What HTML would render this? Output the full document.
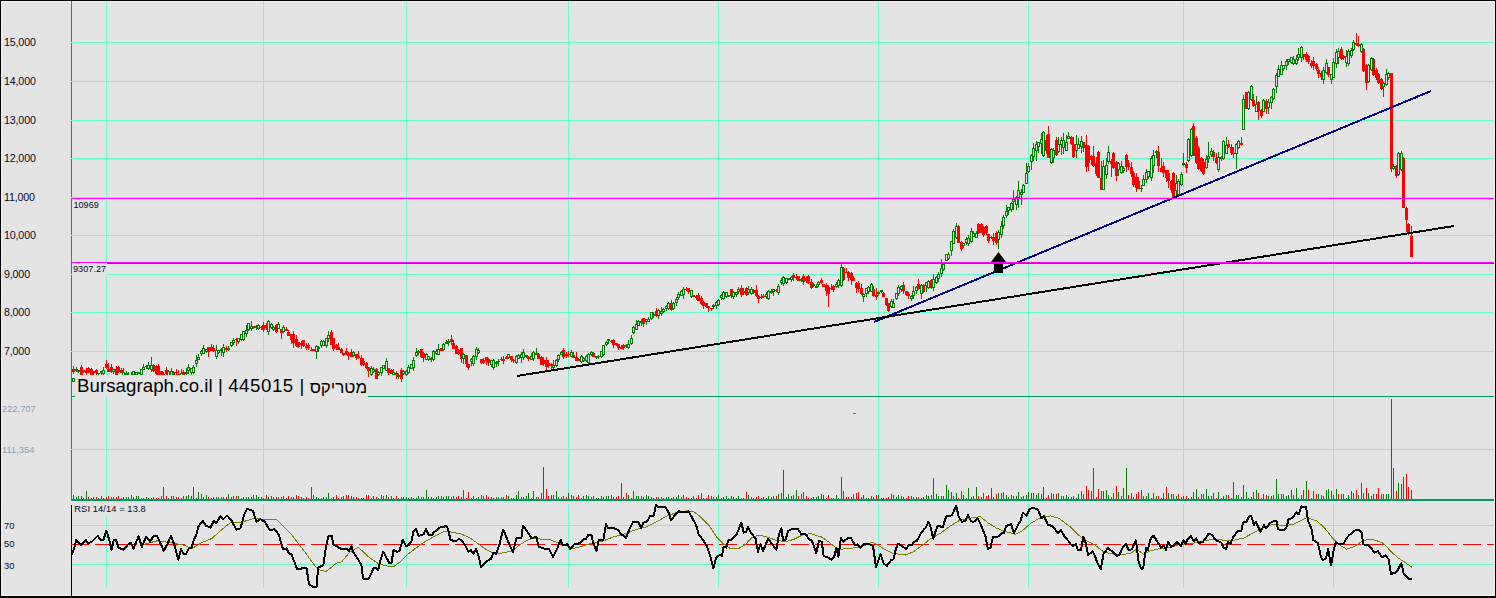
<!DOCTYPE html><html><head><meta charset="utf-8"><title>Bursagraph</title><style>
html,body{margin:0;padding:0;background:#e4e4e4}
body{width:1496px;height:598px;overflow:hidden;position:relative;font-family:"Liberation Sans",sans-serif;color:#000}
svg{position:absolute;left:0;top:0;display:block}
.t{position:absolute;white-space:nowrap;line-height:1}
.ax{font-size:10.67px;left:4px;color:#0a0a1e;letter-spacing:-0.15px}
.sm{font-size:9.33px;color:#0a0a1e}
.sm span,.vl span{display:inline-block;transform:scaleY(1.05);transform-origin:0 0}
.vl{font-size:9.33px;left:2px;color:#8f9bb5}
.box{background:#e4e4e4}
.ti{position:absolute;top:2px;white-space:nowrap;line-height:1}
</style></head><body>
<svg width="1496" height="598" viewBox="0 0 1496 598" shape-rendering="crispEdges">
<rect x="0" y="0" width="1496" height="598" fill="#e4e4e4"/>
<rect x="1" y="1" width="1494" height="1" fill="#f0f0f0"/><rect x="1" y="1" width="1" height="595" fill="#f0f0f0"/>
<rect x="1494" y="1" width="1" height="595" fill="#f0f0f0"/><rect x="1" y="595" width="1494" height="1" fill="#ececec"/>
<rect x="71" y="1" width="1" height="500" fill="#009966"/>
<path d="M106 1h1v499h-1zM106 504h1v84h-1zM263 1h1v499h-1zM263 504h1v84h-1zM406 1h1v499h-1zM406 504h1v84h-1zM568 1h1v499h-1zM568 504h1v84h-1zM718 1h1v499h-1zM718 504h1v84h-1zM878 1h1v499h-1zM878 504h1v84h-1zM1028 1h1v499h-1zM1028 504h1v84h-1zM1183 1h1v499h-1zM1183 504h1v84h-1zM1333 1h1v499h-1zM1333 504h1v84h-1zM71 42h1423v1h-1423zM71 81h1423v1h-1423zM71 120h1423v1h-1423zM71 158h1423v1h-1423zM71 197h1423v1h-1423zM71 235h1423v1h-1423zM71 274h1423v1h-1423zM71 312h1423v1h-1423zM71 351h1423v1h-1423zM71 449h1423v1h-1423zM71 525h1423v1h-1423zM71 564h1423v1h-1423z" fill="#66ffcc"/>
<rect x="72" y="396" width="1422" height="1" fill="#009966"/>
<rect x="71" y="505" width="1" height="91" fill="#000"/>
<path d="M76 497h1v2h-1zM78 496h1v3h-1zM86 491h1v8h-1zM98 498h1v1h-1zM101 496h1v3h-1zM103 498h1v1h-1zM113 497h1v2h-1zM123 497h1v2h-1zM126 497h1v2h-1zM128 497h1v2h-1zM133 497h1v2h-1zM136 496h1v3h-1zM138 496h1v3h-1zM141 498h1v1h-1zM143 498h1v1h-1zM146 497h1v2h-1zM148 498h1v1h-1zM151 498h1v1h-1zM168 498h1v1h-1zM171 496h1v3h-1zM181 498h1v1h-1zM186 496h1v3h-1zM188 495h1v4h-1zM191 496h1v3h-1zM193 487h1v12h-1zM196 498h1v1h-1zM198 492h1v7h-1zM201 494h1v5h-1zM203 497h1v2h-1zM206 495h1v4h-1zM216 497h1v2h-1zM218 497h1v2h-1zM221 497h1v2h-1zM223 497h1v2h-1zM228 494h1v5h-1zM231 497h1v2h-1zM233 496h1v3h-1zM238 496h1v3h-1zM241 498h1v1h-1zM243 497h1v2h-1zM246 497h1v2h-1zM248 497h1v2h-1zM251 497h1v2h-1zM256 495h1v4h-1zM258 497h1v2h-1zM261 497h1v2h-1zM268 497h1v2h-1zM271 496h1v3h-1zM273 497h1v2h-1zM278 497h1v2h-1zM283 496h1v3h-1zM316 497h1v2h-1zM318 498h1v1h-1zM321 498h1v1h-1zM323 497h1v2h-1zM326 497h1v2h-1zM328 493h1v6h-1zM353 497h1v2h-1zM371 498h1v1h-1zM373 496h1v3h-1zM378 498h1v1h-1zM381 495h1v4h-1zM383 496h1v3h-1zM386 495h1v4h-1zM393 498h1v1h-1zM398 498h1v1h-1zM403 497h1v2h-1zM406 497h1v2h-1zM408 498h1v1h-1zM411 497h1v2h-1zM413 498h1v1h-1zM416 498h1v1h-1zM418 496h1v3h-1zM426 490h1v9h-1zM428 497h1v2h-1zM431 497h1v2h-1zM433 498h1v1h-1zM436 497h1v2h-1zM438 496h1v3h-1zM443 497h1v2h-1zM446 496h1v3h-1zM448 496h1v3h-1zM471 498h1v1h-1zM473 496h1v3h-1zM476 498h1v1h-1zM478 497h1v2h-1zM491 497h1v2h-1zM493 498h1v1h-1zM496 497h1v2h-1zM498 497h1v2h-1zM501 497h1v2h-1zM508 496h1v3h-1zM516 495h1v4h-1zM518 491h1v8h-1zM521 497h1v2h-1zM523 497h1v2h-1zM526 496h1v3h-1zM528 493h1v6h-1zM531 498h1v1h-1zM533 491h1v8h-1zM536 497h1v2h-1zM543 467h1v32h-1zM553 495h1v4h-1zM556 491h1v8h-1zM558 497h1v2h-1zM561 497h1v2h-1zM568 493h1v6h-1zM571 495h1v4h-1zM581 498h1v1h-1zM583 496h1v3h-1zM586 495h1v4h-1zM588 496h1v3h-1zM591 497h1v2h-1zM596 498h1v1h-1zM598 498h1v1h-1zM601 496h1v3h-1zM603 497h1v2h-1zM606 496h1v3h-1zM608 496h1v3h-1zM628 495h1v4h-1zM631 498h1v1h-1zM633 491h1v8h-1zM636 496h1v3h-1zM638 496h1v3h-1zM641 496h1v3h-1zM646 495h1v4h-1zM648 496h1v3h-1zM651 497h1v2h-1zM653 498h1v1h-1zM658 497h1v2h-1zM661 497h1v2h-1zM663 498h1v1h-1zM666 497h1v2h-1zM668 497h1v2h-1zM673 497h1v2h-1zM676 497h1v2h-1zM678 495h1v4h-1zM681 497h1v2h-1zM683 495h1v4h-1zM691 498h1v1h-1zM701 493h1v6h-1zM713 497h1v2h-1zM716 497h1v2h-1zM718 495h1v4h-1zM721 498h1v1h-1zM723 497h1v2h-1zM726 496h1v3h-1zM728 498h1v1h-1zM733 497h1v2h-1zM736 498h1v1h-1zM738 496h1v3h-1zM748 495h1v4h-1zM751 497h1v2h-1zM766 498h1v1h-1zM768 496h1v3h-1zM771 497h1v2h-1zM773 496h1v3h-1zM778 494h1v5h-1zM781 493h1v6h-1zM786 497h1v2h-1zM788 494h1v5h-1zM791 496h1v3h-1zM796 490h1v9h-1zM803 492h1v7h-1zM813 497h1v2h-1zM816 497h1v2h-1zM818 496h1v3h-1zM821 494h1v5h-1zM836 495h1v4h-1zM838 498h1v1h-1zM841 477h1v22h-1zM863 495h1v4h-1zM866 498h1v1h-1zM868 498h1v1h-1zM871 496h1v3h-1zM878 495h1v4h-1zM881 498h1v1h-1zM891 494h1v5h-1zM893 495h1v4h-1zM896 497h1v2h-1zM898 495h1v4h-1zM901 496h1v3h-1zM911 496h1v3h-1zM913 497h1v2h-1zM916 497h1v2h-1zM921 498h1v1h-1zM926 495h1v4h-1zM928 496h1v3h-1zM936 494h1v5h-1zM938 496h1v3h-1zM941 496h1v3h-1zM943 496h1v3h-1zM946 485h1v14h-1zM948 490h1v9h-1zM951 492h1v7h-1zM953 496h1v3h-1zM956 493h1v6h-1zM963 495h1v4h-1zM966 498h1v1h-1zM968 488h1v11h-1zM971 497h1v2h-1zM973 496h1v3h-1zM976 487h1v12h-1zM991 488h1v11h-1zM998 493h1v6h-1zM1001 493h1v6h-1zM1003 492h1v7h-1zM1006 495h1v4h-1zM1008 497h1v2h-1zM1011 495h1v4h-1zM1013 496h1v3h-1zM1016 496h1v3h-1zM1018 492h1v7h-1zM1021 497h1v2h-1zM1023 496h1v3h-1zM1026 495h1v4h-1zM1028 492h1v7h-1zM1031 493h1v6h-1zM1033 493h1v6h-1zM1036 495h1v4h-1zM1038 493h1v6h-1zM1043 487h1v12h-1zM1051 493h1v6h-1zM1053 494h1v5h-1zM1058 493h1v6h-1zM1061 496h1v3h-1zM1063 496h1v3h-1zM1066 495h1v4h-1zM1068 497h1v2h-1zM1076 498h1v1h-1zM1078 494h1v5h-1zM1093 468h1v31h-1zM1103 491h1v8h-1zM1106 490h1v9h-1zM1108 495h1v4h-1zM1113 493h1v6h-1zM1118 492h1v7h-1zM1121 496h1v3h-1zM1126 468h1v31h-1zM1131 493h1v6h-1zM1143 496h1v3h-1zM1146 496h1v3h-1zM1148 493h1v6h-1zM1151 498h1v1h-1zM1153 493h1v6h-1zM1156 496h1v3h-1zM1168 493h1v6h-1zM1176 496h1v3h-1zM1181 497h1v2h-1zM1183 496h1v3h-1zM1188 498h1v1h-1zM1191 497h1v2h-1zM1196 489h1v10h-1zM1203 494h1v5h-1zM1206 489h1v10h-1zM1208 496h1v3h-1zM1211 496h1v3h-1zM1218 492h1v7h-1zM1221 498h1v1h-1zM1223 496h1v3h-1zM1226 495h1v4h-1zM1236 495h1v4h-1zM1238 495h1v4h-1zM1243 485h1v14h-1zM1246 492h1v7h-1zM1248 498h1v1h-1zM1251 497h1v2h-1zM1256 490h1v9h-1zM1263 494h1v5h-1zM1268 496h1v3h-1zM1271 496h1v3h-1zM1273 495h1v4h-1zM1276 479h1v20h-1zM1278 494h1v5h-1zM1283 494h1v5h-1zM1286 496h1v3h-1zM1288 495h1v4h-1zM1296 488h1v11h-1zM1298 498h1v1h-1zM1303 490h1v9h-1zM1306 481h1v18h-1zM1318 494h1v5h-1zM1323 496h1v3h-1zM1326 490h1v9h-1zM1328 489h1v10h-1zM1333 495h1v4h-1zM1336 489h1v10h-1zM1346 498h1v1h-1zM1348 495h1v4h-1zM1351 491h1v8h-1zM1353 493h1v6h-1zM1358 495h1v4h-1zM1368 493h1v6h-1zM1371 496h1v3h-1zM1383 494h1v5h-1zM1386 494h1v5h-1zM1388 494h1v5h-1zM1393 468h1v31h-1zM1398 483h1v16h-1zM1401 484h1v15h-1z" fill="#008000"/>
<path d="M73 495h1v4h-1zM81 496h1v3h-1zM83 498h1v1h-1zM88 497h1v2h-1zM91 498h1v1h-1zM93 497h1v2h-1zM96 497h1v2h-1zM106 497h1v2h-1zM108 496h1v3h-1zM111 497h1v2h-1zM116 497h1v2h-1zM118 496h1v3h-1zM121 498h1v1h-1zM131 495h1v4h-1zM153 497h1v2h-1zM156 498h1v1h-1zM158 498h1v1h-1zM161 496h1v3h-1zM163 487h1v12h-1zM166 496h1v3h-1zM173 496h1v3h-1zM176 497h1v2h-1zM178 497h1v2h-1zM183 496h1v3h-1zM208 497h1v2h-1zM211 498h1v1h-1zM213 497h1v2h-1zM226 497h1v2h-1zM236 496h1v3h-1zM253 495h1v4h-1zM263 498h1v1h-1zM266 495h1v4h-1zM276 497h1v2h-1zM281 497h1v2h-1zM286 498h1v1h-1zM288 496h1v3h-1zM291 497h1v2h-1zM293 497h1v2h-1zM296 495h1v4h-1zM298 496h1v3h-1zM301 497h1v2h-1zM303 498h1v1h-1zM306 497h1v2h-1zM308 498h1v1h-1zM311 487h1v12h-1zM313 495h1v4h-1zM331 498h1v1h-1zM333 497h1v2h-1zM336 495h1v4h-1zM338 498h1v1h-1zM341 497h1v2h-1zM343 496h1v3h-1zM346 495h1v4h-1zM348 495h1v4h-1zM351 496h1v3h-1zM356 497h1v2h-1zM358 498h1v1h-1zM361 498h1v1h-1zM363 498h1v1h-1zM366 495h1v4h-1zM368 495h1v4h-1zM376 497h1v2h-1zM388 497h1v2h-1zM391 496h1v3h-1zM396 496h1v3h-1zM401 497h1v2h-1zM421 497h1v2h-1zM423 497h1v2h-1zM441 496h1v3h-1zM451 497h1v2h-1zM453 496h1v3h-1zM456 497h1v2h-1zM458 496h1v3h-1zM461 497h1v2h-1zM463 490h1v9h-1zM466 498h1v1h-1zM468 492h1v7h-1zM481 495h1v4h-1zM483 496h1v3h-1zM486 495h1v4h-1zM488 497h1v2h-1zM503 497h1v2h-1zM506 495h1v4h-1zM511 498h1v1h-1zM513 498h1v1h-1zM538 497h1v2h-1zM541 493h1v6h-1zM546 489h1v10h-1zM548 496h1v3h-1zM551 495h1v4h-1zM563 496h1v3h-1zM566 497h1v2h-1zM573 496h1v3h-1zM576 497h1v2h-1zM578 495h1v4h-1zM593 496h1v3h-1zM611 495h1v4h-1zM613 497h1v2h-1zM616 497h1v2h-1zM618 496h1v3h-1zM621 483h1v16h-1zM623 497h1v2h-1zM626 493h1v6h-1zM643 497h1v2h-1zM656 497h1v2h-1zM671 498h1v1h-1zM686 497h1v2h-1zM688 498h1v1h-1zM693 496h1v3h-1zM696 498h1v1h-1zM698 495h1v4h-1zM703 498h1v1h-1zM706 498h1v1h-1zM708 495h1v4h-1zM711 496h1v3h-1zM731 496h1v3h-1zM741 498h1v1h-1zM743 498h1v1h-1zM746 492h1v7h-1zM753 498h1v1h-1zM756 497h1v2h-1zM758 496h1v3h-1zM761 498h1v1h-1zM763 497h1v2h-1zM776 496h1v3h-1zM783 470h1v29h-1zM793 495h1v4h-1zM798 496h1v3h-1zM801 494h1v5h-1zM806 496h1v3h-1zM808 498h1v1h-1zM811 498h1v1h-1zM823 495h1v4h-1zM826 498h1v1h-1zM828 495h1v4h-1zM831 498h1v1h-1zM833 498h1v1h-1zM843 491h1v8h-1zM846 497h1v2h-1zM848 497h1v2h-1zM851 497h1v2h-1zM853 494h1v5h-1zM856 493h1v6h-1zM858 492h1v7h-1zM861 497h1v2h-1zM873 497h1v2h-1zM876 495h1v4h-1zM883 498h1v1h-1zM886 498h1v1h-1zM888 497h1v2h-1zM903 497h1v2h-1zM906 498h1v1h-1zM908 496h1v3h-1zM918 497h1v2h-1zM923 497h1v2h-1zM931 495h1v4h-1zM933 478h1v21h-1zM958 498h1v1h-1zM961 491h1v8h-1zM978 496h1v3h-1zM981 497h1v2h-1zM983 493h1v6h-1zM986 496h1v3h-1zM988 495h1v4h-1zM993 497h1v2h-1zM996 494h1v5h-1zM1041 494h1v5h-1zM1046 498h1v1h-1zM1048 495h1v4h-1zM1056 494h1v5h-1zM1071 497h1v2h-1zM1073 496h1v3h-1zM1081 491h1v8h-1zM1083 494h1v5h-1zM1086 486h1v13h-1zM1088 490h1v9h-1zM1091 491h1v8h-1zM1096 497h1v2h-1zM1098 489h1v10h-1zM1101 491h1v8h-1zM1111 497h1v2h-1zM1116 486h1v13h-1zM1123 488h1v11h-1zM1128 495h1v4h-1zM1133 497h1v2h-1zM1136 494h1v5h-1zM1138 492h1v7h-1zM1141 490h1v9h-1zM1158 496h1v3h-1zM1161 498h1v1h-1zM1163 493h1v6h-1zM1166 487h1v12h-1zM1171 494h1v5h-1zM1173 494h1v5h-1zM1178 494h1v5h-1zM1186 496h1v3h-1zM1193 492h1v7h-1zM1198 497h1v2h-1zM1201 494h1v5h-1zM1213 493h1v6h-1zM1216 498h1v1h-1zM1228 495h1v4h-1zM1231 498h1v1h-1zM1233 482h1v17h-1zM1241 497h1v2h-1zM1253 492h1v7h-1zM1258 493h1v6h-1zM1261 498h1v1h-1zM1266 495h1v4h-1zM1281 494h1v5h-1zM1291 490h1v9h-1zM1293 495h1v4h-1zM1301 495h1v4h-1zM1308 490h1v9h-1zM1311 498h1v1h-1zM1313 491h1v8h-1zM1316 494h1v5h-1zM1321 495h1v4h-1zM1331 491h1v8h-1zM1338 494h1v5h-1zM1341 494h1v5h-1zM1343 494h1v5h-1zM1356 490h1v9h-1zM1361 483h1v16h-1zM1363 493h1v6h-1zM1366 488h1v11h-1zM1373 494h1v5h-1zM1376 494h1v5h-1zM1378 488h1v11h-1zM1381 494h1v5h-1zM1391 399h1v100h-1zM1396 491h1v8h-1zM1403 477h1v22h-1zM1406 474h1v25h-1zM1408 487h1v12h-1zM1411 490h1v9h-1z" fill="#ff0000"/>
<rect x="71" y="499" width="1423" height="2" fill="#009966"/>
<path d="M76 367h1v2h-1zM76 371h1v1h-1zM78 372h1v1h-1zM98 374h1v2h-1zM101 373h1v4h-1zM103 367h1v3h-1zM103 374h1v2h-1zM113 372h1v2h-1zM123 368h1v4h-1zM126 371h1v2h-1zM126 375h1v2h-1zM128 372h1v3h-1zM128 378h1v3h-1zM133 375h1v1h-1zM136 375h1v1h-1zM141 375h1v2h-1zM143 364h1v3h-1zM146 365h1v1h-1zM146 367h1v2h-1zM148 362h1v3h-1zM148 369h1v1h-1zM151 357h1v8h-1zM151 370h1v2h-1zM168 370h1v1h-1zM168 376h1v3h-1zM171 368h1v3h-1zM171 377h1v4h-1zM181 369h1v4h-1zM181 376h1v3h-1zM186 368h1v4h-1zM186 374h1v1h-1zM188 364h1v3h-1zM188 371h1v3h-1zM191 373h1v3h-1zM193 365h1v2h-1zM193 373h1v1h-1zM196 355h1v5h-1zM196 364h1v3h-1zM198 354h1v3h-1zM201 350h1v1h-1zM201 354h1v2h-1zM203 345h1v3h-1zM206 352h1v1h-1zM216 345h1v5h-1zM216 357h1v2h-1zM218 353h1v1h-1zM221 348h1v1h-1zM221 351h1v5h-1zM223 344h1v3h-1zM223 353h1v4h-1zM228 346h1v2h-1zM228 350h1v1h-1zM231 346h1v1h-1zM233 338h1v2h-1zM233 343h1v2h-1zM238 342h1v2h-1zM241 340h1v1h-1zM243 340h1v1h-1zM246 325h1v5h-1zM246 334h1v3h-1zM248 330h1v1h-1zM251 321h1v5h-1zM251 329h1v2h-1zM256 325h1v1h-1zM256 328h1v2h-1zM258 324h1v1h-1zM258 329h1v1h-1zM261 326h1v1h-1zM261 328h1v2h-1zM268 320h1v1h-1zM268 332h1v3h-1zM271 323h1v1h-1zM271 328h1v1h-1zM273 326h1v1h-1zM273 330h1v1h-1zM278 322h1v2h-1zM283 325h1v2h-1zM283 332h1v1h-1zM316 345h1v1h-1zM316 352h1v7h-1zM318 346h1v1h-1zM318 349h1v3h-1zM321 340h1v1h-1zM321 346h1v2h-1zM323 340h1v1h-1zM326 346h1v2h-1zM328 331h1v4h-1zM328 339h1v3h-1zM353 351h1v1h-1zM353 356h1v1h-1zM371 366h1v2h-1zM371 375h1v1h-1zM373 367h1v2h-1zM373 372h1v1h-1zM378 371h1v1h-1zM378 375h1v1h-1zM381 373h1v3h-1zM386 358h1v3h-1zM393 369h1v3h-1zM398 373h1v2h-1zM398 377h1v2h-1zM403 370h1v1h-1zM403 374h1v1h-1zM406 370h1v1h-1zM406 375h1v1h-1zM408 365h1v2h-1zM408 373h1v1h-1zM413 357h1v3h-1zM413 368h1v3h-1zM416 348h1v4h-1zM416 356h1v1h-1zM418 350h1v1h-1zM418 353h1v2h-1zM426 353h1v1h-1zM428 360h1v1h-1zM431 357h1v1h-1zM431 360h1v2h-1zM433 350h1v1h-1zM433 360h1v1h-1zM436 349h1v2h-1zM436 354h1v1h-1zM438 344h1v5h-1zM443 343h1v1h-1zM443 350h1v1h-1zM446 340h1v2h-1zM448 339h1v2h-1zM448 343h1v3h-1zM463 353h1v1h-1zM463 359h1v5h-1zM471 358h1v1h-1zM471 362h1v4h-1zM473 355h1v1h-1zM473 364h1v2h-1zM476 347h1v2h-1zM476 357h1v3h-1zM478 348h1v2h-1zM478 353h1v1h-1zM491 365h1v2h-1zM493 359h1v1h-1zM493 368h1v2h-1zM496 361h1v1h-1zM496 364h1v3h-1zM498 359h1v2h-1zM498 362h1v4h-1zM501 357h1v2h-1zM501 360h1v1h-1zM508 358h1v1h-1zM516 355h1v1h-1zM516 363h1v1h-1zM518 354h1v1h-1zM521 352h1v2h-1zM521 358h1v5h-1zM523 349h1v3h-1zM523 358h1v2h-1zM526 357h1v1h-1zM531 353h1v3h-1zM533 351h1v1h-1zM533 359h1v2h-1zM536 348h1v5h-1zM553 360h1v5h-1zM553 368h1v1h-1zM556 359h1v1h-1zM556 366h1v1h-1zM558 354h1v1h-1zM558 360h1v2h-1zM561 351h1v1h-1zM571 350h1v2h-1zM581 355h1v1h-1zM581 362h1v1h-1zM583 357h1v1h-1zM583 361h1v1h-1zM586 355h1v1h-1zM586 361h1v1h-1zM588 353h1v1h-1zM588 363h1v1h-1zM591 351h1v1h-1zM591 355h1v1h-1zM596 358h1v1h-1zM598 355h1v1h-1zM598 357h1v2h-1zM601 357h1v1h-1zM603 355h1v1h-1zM606 341h1v1h-1zM606 345h1v1h-1zM608 341h1v3h-1zM626 344h1v1h-1zM626 347h1v1h-1zM628 340h1v4h-1zM628 348h1v1h-1zM631 335h1v3h-1zM631 344h1v1h-1zM633 326h1v1h-1zM633 333h1v1h-1zM636 320h1v4h-1zM638 320h1v1h-1zM641 319h1v2h-1zM641 323h1v3h-1zM646 322h1v3h-1zM648 317h1v2h-1zM651 319h1v1h-1zM653 312h1v2h-1zM653 316h1v2h-1zM658 309h1v1h-1zM658 316h1v3h-1zM661 307h1v4h-1zM661 314h1v2h-1zM663 308h1v1h-1zM663 312h1v1h-1zM666 305h1v1h-1zM666 309h1v2h-1zM668 302h1v1h-1zM668 309h1v1h-1zM673 302h1v1h-1zM673 309h1v1h-1zM676 297h1v2h-1zM676 303h1v3h-1zM678 292h1v2h-1zM678 298h1v2h-1zM681 290h1v1h-1zM683 287h1v2h-1zM683 295h1v4h-1zM691 297h1v1h-1zM713 304h1v1h-1zM713 307h1v2h-1zM716 301h1v1h-1zM716 306h1v3h-1zM718 299h1v1h-1zM718 305h1v1h-1zM721 294h1v1h-1zM721 298h1v2h-1zM723 291h1v1h-1zM723 299h1v1h-1zM726 297h1v1h-1zM733 291h1v1h-1zM733 297h1v2h-1zM736 295h1v2h-1zM738 287h1v2h-1zM738 292h1v2h-1zM748 286h1v3h-1zM748 293h1v2h-1zM751 287h1v2h-1zM751 294h1v1h-1zM766 292h1v2h-1zM766 297h1v2h-1zM768 290h1v1h-1zM768 299h1v1h-1zM771 289h1v2h-1zM771 293h1v1h-1zM773 292h1v4h-1zM778 284h1v2h-1zM778 293h1v2h-1zM781 278h1v2h-1zM781 283h1v2h-1zM783 276h1v1h-1zM783 284h1v2h-1zM786 283h1v1h-1zM791 276h1v1h-1zM791 280h1v2h-1zM801 278h1v1h-1zM801 281h1v1h-1zM813 283h1v1h-1zM813 286h1v1h-1zM816 284h1v2h-1zM818 281h1v1h-1zM818 285h1v2h-1zM836 282h1v2h-1zM836 287h1v1h-1zM838 279h1v1h-1zM838 286h1v2h-1zM841 264h1v3h-1zM841 286h1v1h-1zM863 293h1v1h-1zM863 297h1v5h-1zM866 294h1v3h-1zM868 286h1v1h-1zM868 292h1v2h-1zM871 283h1v1h-1zM878 291h1v1h-1zM878 294h1v2h-1zM881 292h1v1h-1zM891 299h1v2h-1zM891 307h1v1h-1zM893 299h1v4h-1zM896 299h1v1h-1zM898 285h1v2h-1zM898 294h1v2h-1zM901 285h1v1h-1zM901 290h1v2h-1zM911 295h1v1h-1zM911 299h1v2h-1zM913 286h1v5h-1zM913 296h1v3h-1zM916 286h1v1h-1zM916 291h1v3h-1zM921 284h1v1h-1zM921 294h1v5h-1zM926 286h1v6h-1zM928 280h1v1h-1zM928 288h1v1h-1zM933 274h1v5h-1zM933 288h1v3h-1zM936 276h1v1h-1zM936 283h1v1h-1zM938 272h1v2h-1zM938 279h1v3h-1zM941 259h1v9h-1zM941 274h1v3h-1zM943 263h1v1h-1zM943 270h1v1h-1zM948 252h1v2h-1zM948 259h1v1h-1zM951 251h1v5h-1zM953 229h1v2h-1zM956 223h1v3h-1zM956 238h1v1h-1zM963 246h1v2h-1zM966 237h1v2h-1zM966 243h1v2h-1zM968 235h1v3h-1zM968 244h1v2h-1zM971 228h1v3h-1zM971 242h1v1h-1zM973 231h1v2h-1zM976 231h1v2h-1zM998 230h1v2h-1zM998 240h1v9h-1zM1001 221h1v5h-1zM1001 235h1v3h-1zM1003 215h1v2h-1zM1003 226h1v3h-1zM1006 205h1v6h-1zM1006 216h1v2h-1zM1008 211h1v4h-1zM1011 202h1v1h-1zM1011 210h1v2h-1zM1013 190h1v9h-1zM1013 202h1v8h-1zM1016 196h1v1h-1zM1016 205h1v5h-1zM1018 181h1v9h-1zM1018 198h1v10h-1zM1021 189h1v3h-1zM1021 195h1v10h-1zM1023 184h1v1h-1zM1026 163h1v10h-1zM1028 163h1v3h-1zM1028 172h1v1h-1zM1031 154h1v1h-1zM1031 162h1v8h-1zM1033 143h1v5h-1zM1033 157h1v4h-1zM1036 141h1v3h-1zM1036 151h1v10h-1zM1038 147h1v6h-1zM1041 133h1v6h-1zM1041 144h1v10h-1zM1043 131h1v1h-1zM1043 156h1v1h-1zM1051 148h1v1h-1zM1051 163h1v1h-1zM1053 148h1v2h-1zM1053 158h1v5h-1zM1058 137h1v7h-1zM1058 152h1v1h-1zM1061 137h1v3h-1zM1061 145h1v10h-1zM1063 133h1v7h-1zM1063 148h1v6h-1zM1066 135h1v7h-1zM1068 132h1v4h-1zM1076 135h1v9h-1zM1076 151h1v7h-1zM1078 138h1v6h-1zM1081 136h1v5h-1zM1081 147h1v6h-1zM1103 160h1v6h-1zM1106 158h1v7h-1zM1106 175h1v4h-1zM1108 146h1v6h-1zM1108 162h1v2h-1zM1118 162h1v1h-1zM1118 170h1v6h-1zM1121 161h1v5h-1zM1121 173h1v1h-1zM1123 166h1v2h-1zM1123 171h1v2h-1zM1141 185h1v3h-1zM1141 189h1v3h-1zM1143 175h1v4h-1zM1146 169h1v3h-1zM1146 180h1v3h-1zM1148 177h1v2h-1zM1151 156h1v2h-1zM1151 178h1v3h-1zM1153 150h1v5h-1zM1153 166h1v7h-1zM1156 150h1v1h-1zM1156 153h1v5h-1zM1176 175h1v8h-1zM1176 191h1v5h-1zM1178 179h1v2h-1zM1178 195h1v1h-1zM1181 172h1v2h-1zM1181 185h1v1h-1zM1183 153h1v10h-1zM1183 165h1v1h-1zM1188 138h1v1h-1zM1188 161h1v1h-1zM1191 128h1v1h-1zM1191 156h1v1h-1zM1206 155h1v4h-1zM1206 168h1v1h-1zM1208 142h1v14h-1zM1208 159h1v4h-1zM1211 148h1v3h-1zM1211 155h1v2h-1zM1218 152h1v5h-1zM1218 170h1v2h-1zM1221 156h1v1h-1zM1221 159h1v2h-1zM1223 140h1v1h-1zM1223 159h1v1h-1zM1226 137h1v8h-1zM1233 147h1v6h-1zM1233 154h1v4h-1zM1236 143h1v1h-1zM1236 154h1v15h-1zM1238 140h1v1h-1zM1238 148h1v1h-1zM1243 95h1v4h-1zM1248 91h1v1h-1zM1248 109h1v1h-1zM1251 85h1v1h-1zM1251 100h1v1h-1zM1256 96h1v8h-1zM1263 99h1v1h-1zM1268 99h1v3h-1zM1268 108h1v6h-1zM1271 96h1v1h-1zM1271 103h1v6h-1zM1273 88h1v1h-1zM1273 99h1v1h-1zM1276 73h1v2h-1zM1276 87h1v6h-1zM1278 65h1v4h-1zM1281 61h1v4h-1zM1283 69h1v2h-1zM1286 59h1v2h-1zM1286 66h1v4h-1zM1288 62h1v3h-1zM1291 63h1v1h-1zM1293 56h1v3h-1zM1293 64h1v1h-1zM1296 55h1v4h-1zM1296 64h1v1h-1zM1298 48h1v6h-1zM1298 58h1v3h-1zM1301 46h1v1h-1zM1301 58h1v4h-1zM1323 67h1v3h-1zM1323 80h1v4h-1zM1326 59h1v4h-1zM1326 73h1v1h-1zM1331 80h1v4h-1zM1333 58h1v4h-1zM1336 49h1v3h-1zM1336 64h1v4h-1zM1338 48h1v3h-1zM1338 58h1v6h-1zM1346 50h1v6h-1zM1346 63h1v4h-1zM1348 49h1v2h-1zM1348 64h1v2h-1zM1351 48h1v2h-1zM1351 56h1v2h-1zM1353 40h1v2h-1zM1353 50h1v1h-1zM1361 43h1v1h-1zM1361 52h1v1h-1zM1368 64h1v1h-1zM1368 82h1v1h-1zM1371 57h1v1h-1zM1371 70h1v1h-1zM1383 82h1v1h-1zM1383 87h1v10h-1zM1386 69h1v5h-1zM1386 85h1v1h-1zM1388 72h1v1h-1zM1388 78h1v2h-1zM1393 164h1v2h-1zM1393 169h1v1h-1zM1398 152h1v1h-1zM1398 175h1v1h-1zM1401 151h1v2h-1zM1401 170h1v1h-1z" fill="#008000"/>
<path d="M73 366h1v8h-1zM81 365h1v11h-1zM83 370h1v3h-1zM86 368h1v8h-1zM88 367h1v6h-1zM91 368h1v13h-1zM93 371h1v4h-1zM96 369h1v6h-1zM106 360h1v9h-1zM108 363h1v9h-1zM111 364h1v9h-1zM116 366h1v10h-1zM118 366h1v7h-1zM121 368h1v5h-1zM131 372h1v11h-1zM153 364h1v8h-1zM156 365h1v10h-1zM158 364h1v21h-1zM161 371h1v5h-1zM163 372h1v11h-1zM166 367h1v8h-1zM173 371h1v10h-1zM176 369h1v9h-1zM178 370h1v7h-1zM183 370h1v11h-1zM208 347h1v10h-1zM211 344h1v7h-1zM213 345h1v7h-1zM226 346h1v6h-1zM236 338h1v8h-1zM253 326h1v3h-1zM263 322h1v10h-1zM266 323h1v7h-1zM276 324h1v9h-1zM281 329h1v10h-1zM286 327h1v4h-1zM288 330h1v6h-1zM291 334h1v10h-1zM293 331h1v17h-1zM296 335h1v12h-1zM298 342h1v6h-1zM301 341h1v8h-1zM303 340h1v7h-1zM306 343h1v7h-1zM308 343h1v7h-1zM311 347h1v4h-1zM313 349h1v2h-1zM331 330h1v15h-1zM333 338h1v13h-1zM336 344h1v6h-1zM338 343h1v7h-1zM341 348h1v5h-1zM343 353h1v3h-1zM346 348h1v7h-1zM348 352h1v8h-1zM351 349h1v8h-1zM356 354h1v6h-1zM358 351h1v8h-1zM361 355h1v11h-1zM363 358h1v8h-1zM366 362h1v7h-1zM368 367h1v10h-1zM376 368h1v11h-1zM388 368h1v7h-1zM391 369h1v5h-1zM396 371h1v8h-1zM401 368h1v14h-1zM421 349h1v9h-1zM423 352h1v10h-1zM441 348h1v3h-1zM451 335h1v10h-1zM453 340h1v9h-1zM456 345h1v9h-1zM458 349h1v6h-1zM461 348h1v15h-1zM466 355h1v12h-1zM468 364h1v6h-1zM481 359h1v5h-1zM483 358h1v6h-1zM486 357h1v8h-1zM488 358h1v8h-1zM503 356h1v8h-1zM506 356h1v3h-1zM511 356h1v6h-1zM513 359h1v4h-1zM528 356h1v5h-1zM538 353h1v6h-1zM541 356h1v9h-1zM543 357h1v9h-1zM546 357h1v13h-1zM548 360h1v8h-1zM551 363h1v8h-1zM563 348h1v11h-1zM566 352h1v6h-1zM568 351h1v6h-1zM573 352h1v6h-1zM576 352h1v9h-1zM578 358h1v3h-1zM593 352h1v5h-1zM611 340h1v3h-1zM613 339h1v9h-1zM616 343h1v3h-1zM618 344h1v6h-1zM621 345h1v4h-1zM623 344h1v6h-1zM643 318h1v9h-1zM656 308h1v9h-1zM671 300h1v11h-1zM686 287h1v4h-1zM688 288h1v6h-1zM693 295h1v2h-1zM696 295h1v5h-1zM698 293h1v8h-1zM701 296h1v9h-1zM703 301h1v8h-1zM706 303h1v5h-1zM708 306h1v6h-1zM711 308h1v3h-1zM731 289h1v9h-1zM741 285h1v12h-1zM743 288h1v7h-1zM746 287h1v9h-1zM753 289h1v5h-1zM756 285h1v12h-1zM758 295h1v8h-1zM761 294h1v5h-1zM763 294h1v4h-1zM776 289h1v3h-1zM793 273h1v8h-1zM796 274h1v6h-1zM798 276h1v5h-1zM803 274h1v11h-1zM806 276h1v7h-1zM808 275h1v9h-1zM811 279h1v10h-1zM821 278h1v6h-1zM823 284h1v3h-1zM826 283h1v13h-1zM828 285h1v22h-1zM831 284h1v6h-1zM833 285h1v7h-1zM843 267h1v14h-1zM846 268h1v5h-1zM848 271h1v10h-1zM851 272h1v13h-1zM853 276h1v5h-1zM856 282h1v11h-1zM858 281h1v11h-1zM861 284h1v11h-1zM873 286h1v11h-1zM876 288h1v12h-1zM883 292h1v5h-1zM886 298h1v8h-1zM888 303h1v9h-1zM903 282h1v12h-1zM906 291h1v5h-1zM908 292h1v7h-1zM918 279h1v11h-1zM923 284h1v9h-1zM931 279h1v10h-1zM958 225h1v18h-1zM961 241h1v10h-1zM978 223h1v11h-1zM981 223h1v10h-1zM983 226h1v11h-1zM986 225h1v10h-1zM988 234h1v9h-1zM991 236h1v3h-1zM993 233h1v12h-1zM996 231h1v14h-1zM1046 135h1v19h-1zM1048 126h1v32h-1zM1056 137h1v19h-1zM1071 136h1v9h-1zM1073 137h1v21h-1zM1083 142h1v10h-1zM1086 135h1v37h-1zM1088 145h1v26h-1zM1091 155h1v10h-1zM1093 146h1v21h-1zM1096 157h1v19h-1zM1098 151h1v27h-1zM1101 161h1v29h-1zM1111 159h1v18h-1zM1113 152h1v17h-1zM1116 161h1v20h-1zM1126 154h1v18h-1zM1128 160h1v10h-1zM1131 162h1v15h-1zM1133 171h1v16h-1zM1136 173h1v19h-1zM1138 177h1v12h-1zM1158 146h1v26h-1zM1161 158h1v14h-1zM1163 162h1v15h-1zM1166 170h1v12h-1zM1168 170h1v18h-1zM1171 180h1v13h-1zM1173 172h1v26h-1zM1186 162h1v11h-1zM1193 123h1v33h-1zM1196 136h1v28h-1zM1198 146h1v24h-1zM1201 157h1v15h-1zM1203 159h1v16h-1zM1213 150h1v11h-1zM1216 153h1v11h-1zM1228 140h1v8h-1zM1231 144h1v11h-1zM1241 137h1v9h-1zM1246 92h1v17h-1zM1253 94h1v13h-1zM1258 101h1v19h-1zM1261 109h1v9h-1zM1266 99h1v15h-1zM1303 54h1v6h-1zM1306 52h1v10h-1zM1308 55h1v9h-1zM1311 60h1v8h-1zM1313 57h1v13h-1zM1316 63h1v8h-1zM1318 67h1v11h-1zM1321 71h1v9h-1zM1328 67h1v10h-1zM1341 47h1v13h-1zM1343 55h1v5h-1zM1356 33h1v13h-1zM1358 36h1v11h-1zM1363 48h1v24h-1zM1366 64h1v26h-1zM1373 58h1v18h-1zM1376 68h1v12h-1zM1378 73h1v11h-1zM1381 78h1v12h-1zM1391 73h1v99h-1zM1396 165h1v13h-1zM1403 157h1v51h-1zM1406 207h1v25h-1zM1408 223h1v12h-1zM1411 226h1v31h-1z" fill="#ff0000"/>
<path d="M72 369h3v3h-3zM80 367h3v8h-3zM82 370h3v2h-3zM85 370h3v3h-3zM87 368h3v5h-3zM90 369h3v8h-3zM92 371h3v2h-3zM95 370h3v3h-3zM105 364h3v4h-3zM107 369h3v3h-3zM110 367h3v5h-3zM115 369h3v6h-3zM117 367h3v5h-3zM120 370h3v3h-3zM130 375h3v5h-3zM152 365h3v6h-3zM155 366h3v8h-3zM157 366h3v14h-3zM160 371h3v5h-3zM162 374h3v2h-3zM165 370h3v4h-3zM172 372h3v5h-3zM175 372h3v1h-3zM177 374h3v2h-3zM182 372h3v7h-3zM207 347h3v5h-3zM210 347h3v4h-3zM212 348h3v3h-3zM225 348h3v2h-3zM235 339h3v1h-3zM252 326h3v2h-3zM262 325h3v5h-3zM265 325h3v3h-3zM275 325h3v7h-3zM280 329h3v4h-3zM285 329h3v2h-3zM287 332h3v4h-3zM290 334h3v6h-3zM292 334h3v9h-3zM295 339h3v7h-3zM297 342h3v5h-3zM300 343h3v2h-3zM302 340h3v6h-3zM305 346h3v2h-3zM307 345h3v3h-3zM310 350h3v1h-3zM312 349h3v2h-3zM330 332h3v13h-3zM332 338h3v11h-3zM335 345h3v3h-3zM337 347h3v3h-3zM340 349h3v4h-3zM342 353h3v2h-3zM345 351h3v4h-3zM347 353h3v3h-3zM350 352h3v5h-3zM355 354h3v4h-3zM357 356h3v2h-3zM360 358h3v7h-3zM362 361h3v4h-3zM365 363h3v5h-3zM367 367h3v4h-3zM375 369h3v10h-3zM387 368h3v5h-3zM390 370h3v4h-3zM395 373h3v2h-3zM400 370h3v9h-3zM420 349h3v8h-3zM422 353h3v5h-3zM440 348h3v3h-3zM450 339h3v3h-3zM452 343h3v6h-3zM455 346h3v8h-3zM457 350h3v4h-3zM460 348h3v11h-3zM465 355h3v9h-3zM467 364h3v4h-3zM480 359h3v4h-3zM482 360h3v3h-3zM485 357h3v4h-3zM487 359h3v4h-3zM502 359h3v2h-3zM505 357h3v2h-3zM510 356h3v4h-3zM512 360h3v1h-3zM527 357h3v2h-3zM537 354h3v5h-3zM540 357h3v8h-3zM542 360h3v4h-3zM545 360h3v7h-3zM547 363h3v3h-3zM550 364h3v2h-3zM562 350h3v7h-3zM565 354h3v2h-3zM567 354h3v1h-3zM572 355h3v3h-3zM575 357h3v4h-3zM577 359h3v2h-3zM592 353h3v4h-3zM610 341h3v1h-3zM612 340h3v5h-3zM615 343h3v2h-3zM617 344h3v4h-3zM620 347h3v2h-3zM622 345h3v3h-3zM642 318h3v6h-3zM655 311h3v5h-3zM670 303h3v7h-3zM685 289h3v1h-3zM687 288h3v4h-3zM692 295h3v2h-3zM695 296h3v2h-3zM697 295h3v6h-3zM700 298h3v6h-3zM702 302h3v4h-3zM705 303h3v4h-3zM707 306h3v2h-3zM710 308h3v1h-3zM730 289h3v7h-3zM740 288h3v7h-3zM742 291h3v2h-3zM745 288h3v7h-3zM752 290h3v3h-3zM755 290h3v6h-3zM757 296h3v3h-3zM760 297h3v1h-3zM762 296h3v1h-3zM775 290h3v1h-3zM792 275h3v3h-3zM795 277h3v1h-3zM797 276h3v5h-3zM802 276h3v6h-3zM805 278h3v3h-3zM807 276h3v7h-3zM810 282h3v6h-3zM820 280h3v3h-3zM822 284h3v3h-3zM825 285h3v6h-3zM827 287h3v7h-3zM830 288h3v1h-3zM832 286h3v4h-3zM842 268h3v12h-3zM845 272h3v1h-3zM847 272h3v6h-3zM850 273h3v7h-3zM852 278h3v3h-3zM855 283h3v5h-3zM857 283h3v6h-3zM860 288h3v6h-3zM872 289h3v7h-3zM875 295h3v2h-3zM882 293h3v4h-3zM885 298h3v7h-3zM887 303h3v8h-3zM902 285h3v6h-3zM905 291h3v4h-3zM907 294h3v2h-3zM917 284h3v5h-3zM922 285h3v7h-3zM930 280h3v8h-3zM957 226h3v17h-3zM960 242h3v7h-3zM977 224h3v9h-3zM980 224h3v9h-3zM982 227h3v8h-3zM985 226h3v7h-3zM987 234h3v7h-3zM990 237h3v1h-3zM992 237h3v4h-3zM995 233h3v10h-3zM1045 140h3v11h-3zM1047 134h3v24h-3zM1055 140h3v15h-3zM1070 137h3v7h-3zM1072 144h3v13h-3zM1082 142h3v6h-3zM1085 145h3v22h-3zM1087 146h3v17h-3zM1090 156h3v4h-3zM1092 156h3v10h-3zM1095 163h3v11h-3zM1097 152h3v26h-3zM1100 178h3v12h-3zM1110 161h3v3h-3zM1112 153h3v15h-3zM1115 162h3v14h-3zM1125 155h3v12h-3zM1127 163h3v4h-3zM1130 167h3v7h-3zM1132 173h3v12h-3zM1135 177h3v11h-3zM1137 181h3v8h-3zM1157 152h3v14h-3zM1160 168h3v4h-3zM1162 166h3v7h-3zM1165 170h3v8h-3zM1167 173h3v8h-3zM1170 181h3v9h-3zM1172 173h3v24h-3zM1185 164h3v4h-3zM1192 126h3v30h-3zM1195 138h3v25h-3zM1197 148h3v21h-3zM1200 158h3v13h-3zM1202 162h3v12h-3zM1212 152h3v5h-3zM1215 158h3v5h-3zM1227 144h3v3h-3zM1230 147h3v6h-3zM1240 143h3v2h-3zM1245 92h3v17h-3zM1252 100h3v6h-3zM1257 102h3v9h-3zM1260 110h3v6h-3zM1265 101h3v8h-3zM1302 54h3v3h-3zM1305 54h3v6h-3zM1307 56h3v6h-3zM1310 63h3v3h-3zM1312 61h3v5h-3zM1315 64h3v5h-3zM1317 70h3v4h-3zM1320 73h3v4h-3zM1327 67h3v8h-3zM1340 49h3v10h-3zM1342 56h3v2h-3zM1355 43h3v2h-3zM1357 44h3v2h-3zM1362 49h3v22h-3zM1365 65h3v18h-3zM1372 59h3v16h-3zM1375 70h3v8h-3zM1377 74h3v9h-3zM1380 79h3v10h-3zM1390 73h3v96h-3zM1395 166h3v10h-3zM1402 158h3v50h-3zM1405 208h3v12h-3zM1407 224h3v8h-3zM1410 236h3v21h-3z" fill="#ff0000"/>
<path d="M75 369h3v2h-3zM77 370h3v2h-3zM97 373h3v1h-3zM100 371h3v2h-3zM102 370h3v4h-3zM112 369h3v3h-3zM122 372h3v4h-3zM125 373h3v2h-3zM127 375h3v3h-3zM132 371h3v4h-3zM135 372h3v3h-3zM137 372h3v2h-3zM140 369h3v6h-3zM142 367h3v3h-3zM145 366h3v1h-3zM147 365h3v4h-3zM150 365h3v5h-3zM167 371h3v5h-3zM170 371h3v6h-3zM180 373h3v3h-3zM185 372h3v2h-3zM187 367h3v4h-3zM190 368h3v5h-3zM192 367h3v6h-3zM195 360h3v4h-3zM197 357h3v3h-3zM200 351h3v3h-3zM202 348h3v6h-3zM205 349h3v3h-3zM215 350h3v7h-3zM217 350h3v3h-3zM220 349h3v2h-3zM222 347h3v6h-3zM227 348h3v2h-3zM230 342h3v4h-3zM232 340h3v3h-3zM237 338h3v4h-3zM240 334h3v6h-3zM242 331h3v9h-3zM245 330h3v4h-3zM247 323h3v7h-3zM250 326h3v3h-3zM255 326h3v2h-3zM257 325h3v4h-3zM260 327h3v1h-3zM267 321h3v11h-3zM270 324h3v4h-3zM272 327h3v3h-3zM277 324h3v5h-3zM282 327h3v5h-3zM315 346h3v6h-3zM317 347h3v2h-3zM320 341h3v5h-3zM322 341h3v5h-3zM325 338h3v8h-3zM327 335h3v4h-3zM352 352h3v4h-3zM370 368h3v7h-3zM372 369h3v3h-3zM377 372h3v3h-3zM380 367h3v6h-3zM382 365h3v4h-3zM385 361h3v10h-3zM392 372h3v3h-3zM397 375h3v2h-3zM402 371h3v3h-3zM405 371h3v4h-3zM407 367h3v6h-3zM410 364h3v5h-3zM412 360h3v8h-3zM415 352h3v4h-3zM417 351h3v2h-3zM425 354h3v6h-3zM427 356h3v4h-3zM430 358h3v2h-3zM432 351h3v9h-3zM435 351h3v3h-3zM437 349h3v6h-3zM442 344h3v6h-3zM445 342h3v2h-3zM447 341h3v2h-3zM462 354h3v5h-3zM470 359h3v3h-3zM472 356h3v8h-3zM475 349h3v8h-3zM477 350h3v3h-3zM490 360h3v5h-3zM492 360h3v8h-3zM495 362h3v2h-3zM497 361h3v1h-3zM500 359h3v1h-3zM507 354h3v4h-3zM515 356h3v7h-3zM517 355h3v4h-3zM520 354h3v4h-3zM522 352h3v6h-3zM525 355h3v2h-3zM530 356h3v4h-3zM532 352h3v7h-3zM535 353h3v2h-3zM552 365h3v3h-3zM555 360h3v6h-3zM557 355h3v5h-3zM560 352h3v3h-3zM570 352h3v5h-3zM580 356h3v6h-3zM582 358h3v3h-3zM585 356h3v5h-3zM587 354h3v9h-3zM590 352h3v3h-3zM595 356h3v2h-3zM597 356h3v1h-3zM600 351h3v6h-3zM602 345h3v10h-3zM605 342h3v3h-3zM607 339h3v2h-3zM625 345h3v2h-3zM627 344h3v4h-3zM630 338h3v6h-3zM632 327h3v6h-3zM635 324h3v6h-3zM637 321h3v5h-3zM640 321h3v2h-3zM645 319h3v3h-3zM647 319h3v3h-3zM650 312h3v7h-3zM652 314h3v2h-3zM657 310h3v6h-3zM660 311h3v3h-3zM662 309h3v3h-3zM665 306h3v3h-3zM667 303h3v6h-3zM672 303h3v6h-3zM675 299h3v4h-3zM677 294h3v4h-3zM680 291h3v5h-3zM682 289h3v6h-3zM690 290h3v7h-3zM712 305h3v2h-3zM715 302h3v4h-3zM717 300h3v5h-3zM720 295h3v3h-3zM722 292h3v7h-3zM725 292h3v5h-3zM727 295h3v2h-3zM732 292h3v5h-3zM735 292h3v3h-3zM737 289h3v3h-3zM747 289h3v4h-3zM750 289h3v5h-3zM765 294h3v3h-3zM767 291h3v8h-3zM770 291h3v2h-3zM772 289h3v3h-3zM777 286h3v7h-3zM780 280h3v3h-3zM782 277h3v7h-3zM785 278h3v5h-3zM787 278h3v2h-3zM790 277h3v3h-3zM800 279h3v2h-3zM812 284h3v2h-3zM815 286h3v2h-3zM817 282h3v3h-3zM835 284h3v3h-3zM837 280h3v6h-3zM840 267h3v19h-3zM862 294h3v3h-3zM865 288h3v6h-3zM867 287h3v5h-3zM870 284h3v8h-3zM877 292h3v2h-3zM880 290h3v2h-3zM890 301h3v6h-3zM892 303h3v5h-3zM895 293h3v6h-3zM897 287h3v7h-3zM900 286h3v4h-3zM910 296h3v3h-3zM912 291h3v5h-3zM915 287h3v4h-3zM920 285h3v9h-3zM925 282h3v4h-3zM927 281h3v7h-3zM932 279h3v9h-3zM935 277h3v6h-3zM937 274h3v5h-3zM940 268h3v6h-3zM942 264h3v6h-3zM945 254h3v7h-3zM947 254h3v5h-3zM950 241h3v10h-3zM952 231h3v13h-3zM955 226h3v12h-3zM962 243h3v3h-3zM965 239h3v4h-3zM967 238h3v6h-3zM970 231h3v11h-3zM972 233h3v4h-3zM975 233h3v5h-3zM997 232h3v8h-3zM1000 226h3v9h-3zM1002 217h3v9h-3zM1005 211h3v5h-3zM1007 207h3v4h-3zM1010 203h3v7h-3zM1012 199h3v3h-3zM1015 197h3v8h-3zM1017 190h3v8h-3zM1020 192h3v3h-3zM1022 185h3v8h-3zM1025 173h3v11h-3zM1027 166h3v6h-3zM1030 155h3v7h-3zM1032 148h3v9h-3zM1035 144h3v7h-3zM1037 142h3v5h-3zM1040 139h3v5h-3zM1042 132h3v24h-3zM1050 149h3v14h-3zM1052 150h3v8h-3zM1057 144h3v8h-3zM1060 140h3v5h-3zM1062 140h3v8h-3zM1065 142h3v9h-3zM1067 136h3v3h-3zM1075 144h3v7h-3zM1077 144h3v5h-3zM1080 141h3v6h-3zM1102 166h3v24h-3zM1105 165h3v10h-3zM1107 152h3v10h-3zM1117 163h3v7h-3zM1120 166h3v7h-3zM1122 168h3v3h-3zM1140 188h3v1h-3zM1142 179h3v7h-3zM1145 172h3v8h-3zM1147 171h3v6h-3zM1150 158h3v20h-3zM1152 155h3v11h-3zM1155 151h3v2h-3zM1175 183h3v8h-3zM1177 181h3v14h-3zM1180 174h3v11h-3zM1182 163h3v2h-3zM1187 139h3v22h-3zM1190 129h3v27h-3zM1205 159h3v9h-3zM1207 156h3v3h-3zM1210 151h3v4h-3zM1217 157h3v13h-3zM1220 157h3v2h-3zM1222 141h3v18h-3zM1225 145h3v9h-3zM1232 153h3v1h-3zM1235 144h3v10h-3zM1237 141h3v7h-3zM1242 99h3v31h-3zM1247 92h3v17h-3zM1250 86h3v14h-3zM1255 104h3v8h-3zM1262 100h3v12h-3zM1267 102h3v6h-3zM1270 97h3v6h-3zM1272 89h3v10h-3zM1275 75h3v12h-3zM1277 69h3v8h-3zM1280 65h3v10h-3zM1282 65h3v4h-3zM1285 61h3v5h-3zM1287 59h3v3h-3zM1290 57h3v6h-3zM1292 59h3v5h-3zM1295 59h3v5h-3zM1297 54h3v4h-3zM1300 47h3v11h-3zM1322 70h3v10h-3zM1325 63h3v10h-3zM1330 74h3v6h-3zM1332 62h3v16h-3zM1335 52h3v12h-3zM1337 51h3v7h-3zM1345 56h3v7h-3zM1347 51h3v13h-3zM1350 50h3v6h-3zM1352 42h3v8h-3zM1360 44h3v8h-3zM1367 65h3v17h-3zM1370 58h3v12h-3zM1382 83h3v4h-3zM1385 74h3v11h-3zM1387 73h3v5h-3zM1392 166h3v3h-3zM1397 153h3v22h-3zM1400 153h3v17h-3z" fill="#008000"/>
<path d="M103 371h1v2h-1zM113 370h1v1h-1zM123 373h1v2h-1zM128 376h1v1h-1zM133 372h1v2h-1zM136 373h1v1h-1zM141 370h1v4h-1zM143 368h1v1h-1zM148 366h1v2h-1zM151 366h1v3h-1zM168 372h1v3h-1zM171 372h1v4h-1zM181 374h1v1h-1zM188 368h1v2h-1zM191 369h1v3h-1zM193 368h1v4h-1zM196 361h1v2h-1zM198 358h1v1h-1zM201 352h1v1h-1zM203 349h1v4h-1zM206 350h1v1h-1zM216 351h1v5h-1zM218 351h1v1h-1zM223 348h1v4h-1zM231 343h1v2h-1zM233 341h1v1h-1zM238 339h1v2h-1zM241 335h1v4h-1zM243 332h1v7h-1zM246 331h1v2h-1zM248 324h1v5h-1zM251 327h1v1h-1zM258 326h1v2h-1zM268 322h1v9h-1zM271 325h1v2h-1zM273 328h1v1h-1zM278 325h1v3h-1zM283 328h1v3h-1zM316 347h1v4h-1zM321 342h1v3h-1zM323 342h1v3h-1zM326 339h1v6h-1zM328 336h1v2h-1zM353 353h1v2h-1zM371 369h1v5h-1zM373 370h1v1h-1zM378 373h1v1h-1zM381 368h1v4h-1zM383 366h1v2h-1zM386 362h1v8h-1zM393 373h1v1h-1zM403 372h1v1h-1zM406 372h1v2h-1zM408 368h1v4h-1zM411 365h1v3h-1zM413 361h1v6h-1zM416 353h1v2h-1zM426 355h1v4h-1zM428 357h1v2h-1zM433 352h1v7h-1zM436 352h1v1h-1zM438 350h1v4h-1zM443 345h1v4h-1zM463 355h1v3h-1zM471 360h1v1h-1zM473 357h1v6h-1zM476 350h1v6h-1zM478 351h1v1h-1zM491 361h1v3h-1zM493 361h1v6h-1zM508 355h1v2h-1zM516 357h1v5h-1zM518 356h1v2h-1zM521 355h1v2h-1zM523 353h1v4h-1zM531 357h1v2h-1zM533 353h1v5h-1zM553 366h1v1h-1zM556 361h1v4h-1zM558 356h1v3h-1zM561 353h1v1h-1zM571 353h1v3h-1zM581 357h1v4h-1zM583 359h1v1h-1zM586 357h1v3h-1zM588 355h1v7h-1zM591 353h1v1h-1zM601 352h1v4h-1zM603 346h1v8h-1zM606 343h1v1h-1zM628 345h1v2h-1zM631 339h1v4h-1zM633 328h1v4h-1zM636 325h1v4h-1zM638 322h1v3h-1zM646 320h1v1h-1zM648 320h1v1h-1zM651 313h1v5h-1zM658 311h1v4h-1zM661 312h1v1h-1zM663 310h1v1h-1zM666 307h1v1h-1zM668 304h1v4h-1zM673 304h1v4h-1zM676 300h1v2h-1zM678 295h1v2h-1zM681 292h1v3h-1zM683 290h1v4h-1zM691 291h1v5h-1zM716 303h1v2h-1zM718 301h1v3h-1zM721 296h1v1h-1zM723 293h1v5h-1zM726 293h1v3h-1zM733 293h1v3h-1zM736 293h1v1h-1zM738 290h1v1h-1zM748 290h1v2h-1zM751 290h1v3h-1zM766 295h1v1h-1zM768 292h1v6h-1zM773 290h1v1h-1zM778 287h1v5h-1zM781 281h1v1h-1zM783 278h1v5h-1zM786 279h1v3h-1zM791 278h1v1h-1zM818 283h1v1h-1zM836 285h1v1h-1zM838 281h1v4h-1zM841 268h1v17h-1zM863 295h1v1h-1zM866 289h1v4h-1zM868 288h1v3h-1zM871 285h1v6h-1zM891 302h1v4h-1zM893 304h1v3h-1zM896 294h1v4h-1zM898 288h1v5h-1zM901 287h1v2h-1zM911 297h1v1h-1zM913 292h1v3h-1zM916 288h1v2h-1zM921 286h1v7h-1zM926 283h1v2h-1zM928 282h1v5h-1zM933 280h1v7h-1zM936 278h1v4h-1zM938 275h1v3h-1zM941 269h1v4h-1zM943 265h1v4h-1zM946 255h1v5h-1zM948 255h1v3h-1zM951 242h1v8h-1zM953 232h1v11h-1zM956 227h1v10h-1zM963 244h1v1h-1zM966 240h1v2h-1zM968 239h1v4h-1zM971 232h1v9h-1zM973 234h1v2h-1zM976 234h1v3h-1zM998 233h1v6h-1zM1001 227h1v7h-1zM1003 218h1v7h-1zM1006 212h1v3h-1zM1008 208h1v2h-1zM1011 204h1v5h-1zM1013 200h1v1h-1zM1016 198h1v6h-1zM1018 191h1v6h-1zM1021 193h1v1h-1zM1023 186h1v6h-1zM1026 174h1v9h-1zM1028 167h1v4h-1zM1031 156h1v5h-1zM1033 149h1v7h-1zM1036 145h1v5h-1zM1038 143h1v3h-1zM1041 140h1v3h-1zM1043 133h1v22h-1zM1051 150h1v12h-1zM1053 151h1v6h-1zM1058 145h1v6h-1zM1061 141h1v3h-1zM1063 141h1v6h-1zM1066 143h1v7h-1zM1068 137h1v1h-1zM1076 145h1v5h-1zM1078 145h1v3h-1zM1081 142h1v4h-1zM1103 167h1v22h-1zM1106 166h1v8h-1zM1108 153h1v8h-1zM1118 164h1v5h-1zM1121 167h1v5h-1zM1123 169h1v1h-1zM1143 180h1v5h-1zM1146 173h1v6h-1zM1148 172h1v4h-1zM1151 159h1v18h-1zM1153 156h1v9h-1zM1176 184h1v6h-1zM1178 182h1v12h-1zM1181 175h1v9h-1zM1188 140h1v20h-1zM1191 130h1v25h-1zM1206 160h1v7h-1zM1208 157h1v1h-1zM1211 152h1v2h-1zM1218 158h1v11h-1zM1223 142h1v16h-1zM1226 146h1v7h-1zM1236 145h1v8h-1zM1238 142h1v5h-1zM1243 100h1v29h-1zM1248 93h1v15h-1zM1251 87h1v12h-1zM1256 105h1v6h-1zM1263 101h1v10h-1zM1268 103h1v4h-1zM1271 98h1v4h-1zM1273 90h1v8h-1zM1276 76h1v10h-1zM1278 70h1v6h-1zM1281 66h1v8h-1zM1283 66h1v2h-1zM1286 62h1v3h-1zM1288 60h1v1h-1zM1291 58h1v4h-1zM1293 60h1v3h-1zM1296 60h1v3h-1zM1298 55h1v2h-1zM1301 48h1v9h-1zM1323 71h1v8h-1zM1326 64h1v8h-1zM1331 75h1v4h-1zM1333 63h1v14h-1zM1336 53h1v10h-1zM1338 52h1v5h-1zM1346 57h1v5h-1zM1348 52h1v11h-1zM1351 51h1v4h-1zM1353 43h1v6h-1zM1361 45h1v6h-1zM1368 66h1v15h-1zM1371 59h1v10h-1zM1383 84h1v2h-1zM1386 75h1v9h-1zM1388 74h1v3h-1zM1393 167h1v1h-1zM1398 154h1v20h-1zM1401 154h1v15h-1z" fill="#e4e4e4"/>
<line x1="874" y1="322" x2="1431" y2="91" stroke="#000080" stroke-width="2"/>
<line x1="517" y1="376" x2="1454" y2="226" stroke="#000" stroke-width="2"/>
<path d="M998.5 252L1006 262H1003V273H994V262H991Z" fill="#000" shape-rendering="geometricPrecision"/>
<rect x="71" y="198" width="1423" height="1" fill="#ff00ff"/>
<rect x="71" y="262" width="1423" height="1" fill="#ff00ff"/>
<rect x="71" y="263" width="1423" height="1" fill="#ff0000"/>
<rect x="853" y="413" width="3" height="1" fill="#ff00ff"/>
<path d="M71 544h18v1h-18zM95 544h18v1h-18zM119 544h18v1h-18zM143 544h18v1h-18zM167 544h18v1h-18zM191 544h18v1h-18zM215 544h18v1h-18zM239 544h18v1h-18zM263 544h18v1h-18zM287 544h18v1h-18zM311 544h18v1h-18zM335 544h18v1h-18zM359 544h18v1h-18zM383 544h18v1h-18zM407 544h18v1h-18zM431 544h18v1h-18zM455 544h18v1h-18zM479 544h18v1h-18zM503 544h18v1h-18zM527 544h18v1h-18zM551 544h18v1h-18zM575 544h18v1h-18zM599 544h18v1h-18zM623 544h18v1h-18zM647 544h18v1h-18zM671 544h18v1h-18zM695 544h18v1h-18zM719 544h18v1h-18zM743 544h18v1h-18zM767 544h18v1h-18zM791 544h18v1h-18zM815 544h18v1h-18zM839 544h18v1h-18zM863 544h18v1h-18zM887 544h18v1h-18zM911 544h18v1h-18zM935 544h18v1h-18zM959 544h18v1h-18zM983 544h18v1h-18zM1007 544h18v1h-18zM1031 544h18v1h-18zM1055 544h18v1h-18zM1079 544h18v1h-18zM1103 544h18v1h-18zM1127 544h18v1h-18zM1151 544h18v1h-18zM1175 544h18v1h-18zM1199 544h18v1h-18zM1223 544h18v1h-18zM1247 544h18v1h-18zM1271 544h18v1h-18zM1295 544h18v1h-18zM1319 544h18v1h-18zM1343 544h18v1h-18zM1367 544h18v1h-18zM1391 544h18v1h-18zM1415 544h18v1h-18zM1439 544h18v1h-18zM1463 544h18v1h-18zM1487 544h7v1h-7z" fill="#ff0000"/>
<polyline fill="none" stroke="#808000" stroke-width="1" points="143.5,544.3 156.9,540.9 170.3,542.6 183.6,545.1 192.0,548.5 202.0,542.6 212.0,538.4 220.4,530.9 230.4,522.6 240.5,522.6 253.8,518.4 267.2,519.7 277.2,520.0 290.6,533.4 302.3,548.5 315.7,566.8 320.0,570.2 325.8,571.5 336.7,563.2 341.7,561.8 350.0,551.8 358.4,547.3 368.5,556.8 378.5,563.8 386.8,566.0 394.4,566.0 400.2,561.8 406.9,555.1 415.3,548.5 423.6,542.6 433.6,536.8 443.7,531.8 450.3,531.8 462.0,534.3 470.4,538.1 478.8,544.3 487.0,550.1 495.5,554.3 503.8,552.6 512.0,551.0 520.5,544.3 528.9,539.3 535.6,538.1 543.9,539.8 549.0,539.3 557.3,542.6 567.3,546.0 570.0,549.3 580.0,546.8 593.4,542.6 603.4,540.9 613.4,536.8 623.5,534.3 636.8,529.2 646.9,526.7 656.9,521.7 666.9,515.9 677.0,512.5 687.0,510.9 693.7,511.7 700.3,516.7 708.7,525.0 717.0,537.6 723.7,544.3 730.4,548.5 738.8,548.5 745.5,544.3 752.0,537.6 758.8,535.1 767.2,537.1 775.5,540.1 785.6,541.8 793.9,539.3 802.3,535.1 810.6,533.4 819.0,536.4 820.0,535.9 828.4,541.8 838.4,549.3 850.0,548.5 861.8,546.5 872.6,542.1 881.8,547.6 891.9,553.1 905.2,555.1 913.6,551.8 923.6,544.3 930.3,538.8 940.3,533.4 950.3,525.9 958.7,520.9 968.7,518.4 980.4,516.7 988.8,523.4 997.0,528.4 1007.2,532.1 1015.5,534.3 1022.2,530.9 1030.6,523.4 1040.6,517.5 1050.6,515.9 1059.0,518.4 1069.8,526.4 1070.0,526.7 1078.4,535.1 1088.4,541.8 1095.0,545.1 1103.4,551.8 1111.8,553.8 1120.0,554.8 1130.0,553.5 1136.8,549.3 1143.5,554.3 1150.2,551.0 1160.2,548.5 1170.3,547.6 1180.3,544.3 1190.3,543.8 1200.3,541.8 1212.0,539.3 1220.4,539.8 1230.4,540.9 1243.8,538.1 1253.8,532.6 1263.9,527.0 1273.9,524.2 1283.9,525.9 1293.9,524.2 1304.0,519.2 1307.3,517.5 1312.3,519.7 1316.4,520.5 1324.6,527.9 1332.8,538.5 1341.0,545.9 1346.7,549.2 1354.0,546.7 1362.3,541.0 1368.9,539.3 1375.4,540.2 1383.6,543.4 1391.8,552.5 1398.4,558.2 1404.9,562.3 1411.8,567.2"/>
<polyline fill="none" stroke="#000" stroke-width="2" stroke-linejoin="round" points="71.7,555.1 74.2,548.5 76.4,539.8 80.9,545.1 85.9,540.1 88.4,543.4 91.7,541.8 97.6,535.9 100.9,540.1 103.4,540.1 106.4,530.6 109.3,540.1 111.4,550.1 113.8,540.1 116.0,540.1 118.5,547.6 123.5,549.8 127.7,544.8 131.0,542.6 133.5,548.5 138.5,536.4 141.9,546.8 146.0,536.8 150.2,541.8 153.6,535.6 156.9,535.9 161.0,544.3 163.6,551.0 167.8,543.4 171.0,535.6 174.4,545.1 178.3,559.7 181.0,549.3 183.6,554.3 186.0,554.3 188.7,548.5 191.7,547.6 193.7,540.1 196.2,535.1 198.7,525.9 202.9,520.9 206.2,525.9 210.4,527.6 213.7,520.9 216.2,523.4 220.4,516.2 223.4,519.2 227.0,515.5 231.3,520.0 236.3,529.7 240.5,528.4 243.8,515.9 247.0,508.7 253.0,510.9 256.3,521.7 260.5,519.2 264.7,521.7 269.7,530.1 274.7,529.2 278.9,535.1 283.0,549.3 286.4,548.5 288.9,553.5 291.4,554.3 297.3,569.4 301.5,568.5 306.5,567.7 309.0,584.4 314.0,587.2 316.5,586.9 318.2,567.7 320.0,566.8 323.3,565.2 325.8,548.5 328.4,535.9 331.7,535.9 333.4,545.1 336.7,546.0 340.9,549.0 347.6,549.3 349.2,551.0 351.4,546.0 353.4,552.6 357.6,558.5 361.4,565.2 363.0,578.5 368.5,578.5 371.0,574.4 373.5,567.7 376.0,567.7 378.2,569.9 380.5,560.2 383.2,551.5 386.0,556.8 389.4,563.2 391.5,563.2 393.5,550.1 396.9,551.8 399.4,551.0 402.7,539.8 406.0,546.0 408.6,545.1 411.6,540.9 413.2,531.8 416.0,528.7 418.6,535.9 423.6,534.3 426.0,528.7 428.6,535.1 432.8,534.8 433.6,531.8 436.0,531.4 438.7,527.6 443.7,527.2 446.0,525.4 448.3,529.7 450.3,539.3 452.9,540.9 456.0,541.4 458.7,538.8 462.0,540.9 465.4,546.0 468.4,551.8 471.0,550.1 473.4,553.8 476.0,549.0 478.8,556.8 481.0,566.8 484.6,563.2 488.0,560.5 491.0,558.8 493.5,552.6 496.0,554.0 499.6,544.3 503.0,529.7 504.7,532.6 508.8,543.4 513.0,552.1 516.4,538.4 521.4,538.1 523.0,525.4 526.4,530.1 531.4,538.1 536.4,536.8 538.6,546.5 543.9,548.5 549.0,548.8 553.0,557.3 557.3,548.5 560.6,539.8 563.0,545.5 567.3,544.3 569.8,547.6 570.0,549.3 574.2,544.3 579.2,543.4 583.4,539.3 585.9,539.3 588.4,534.8 591.4,534.8 593.4,543.4 596.4,551.0 598.7,540.1 603.4,540.1 605.9,524.2 608.4,528.4 614.3,528.4 618.5,530.1 621.5,535.1 623.5,535.1 626.0,538.1 629.3,529.2 633.2,521.7 638.5,521.7 641.0,528.4 643.5,522.6 646.9,521.7 650.2,515.9 653.6,515.9 656.0,505.0 658.6,507.5 665.3,506.7 668.6,512.5 671.0,520.0 674.4,515.9 678.6,511.4 683.6,512.0 688.6,511.4 692.0,517.5 696.2,525.4 698.7,534.3 703.7,540.9 707.0,546.5 710.4,556.8 713.4,568.2 716.2,557.7 719.6,555.1 722.0,556.0 723.7,546.5 726.2,547.6 728.4,540.1 731.3,540.1 736.3,535.1 738.8,529.2 741.3,522.6 743.8,532.6 746.3,531.8 748.0,526.7 751.3,533.4 755.5,538.4 758.0,551.8 760.5,544.3 763.0,551.0 768.0,538.8 772.2,544.3 776.4,549.8 778.9,534.3 781.4,528.4 783.0,540.1 785.6,540.1 788.0,530.9 791.4,529.2 798.0,529.2 801.5,534.3 805.6,534.3 809.0,539.3 811.5,540.1 814.0,546.0 816.2,553.5 819.0,540.9 820.0,540.9 821.7,541.8 823.7,556.0 827.5,557.2 831.7,559.8 834.2,556.8 836.4,548.1 838.4,556.8 840.9,538.1 843.4,541.8 847.6,538.1 850.9,538.1 855.0,545.1 857.6,544.3 860.6,547.6 863.4,544.3 869.3,544.3 873.0,546.0 876.0,566.8 878.2,561.0 880.5,553.8 883.5,563.2 886.8,566.0 891.0,560.2 893.5,559.3 896.0,548.5 898.2,543.8 902.7,546.5 906.0,548.8 909.4,544.8 911.9,544.8 913.6,542.1 916.9,540.9 920.3,534.3 923.6,529.7 926.0,527.6 928.3,521.7 930.3,525.9 933.3,538.8 935.3,531.8 937.8,525.9 942.8,527.0 946.2,516.4 952.0,515.4 956.2,505.8 958.7,516.7 962.0,521.7 965.4,520.9 967.9,515.0 971.2,521.4 973.7,521.7 977.9,518.4 982.0,527.6 985.4,535.9 987.9,549.0 990.5,547.6 993.0,537.1 998.8,536.4 1001.3,533.4 1003.8,533.4 1006.3,525.9 1011.3,524.2 1013.8,533.4 1018.0,525.0 1020.5,520.9 1023.0,512.5 1026.4,515.9 1029.7,509.2 1033.0,507.5 1038.0,509.7 1041.4,518.4 1043.9,515.9 1048.0,525.0 1052.3,525.9 1058.0,533.4 1061.0,530.1 1064.8,536.8 1069.8,542.6 1070.0,543.8 1073.3,546.0 1075.8,543.8 1078.0,550.1 1080.9,550.1 1083.4,536.8 1085.9,543.4 1088.0,555.1 1092.6,551.5 1095.0,556.0 1097.6,563.5 1100.9,568.9 1103.4,554.3 1108.0,548.1 1112.6,551.8 1116.8,556.0 1119.3,555.1 1122.6,547.6 1126.0,543.8 1128.5,550.1 1131.8,549.3 1136.0,540.4 1138.5,561.0 1141.0,568.5 1143.2,568.5 1145.2,553.1 1146.5,547.6 1147.7,550.1 1151.0,537.6 1153.6,535.9 1156.9,540.9 1161.0,547.6 1163.6,545.1 1166.0,550.1 1168.3,541.8 1171.0,546.8 1173.6,545.5 1177.0,541.8 1181.0,546.0 1183.6,540.1 1185.3,543.8 1187.8,538.8 1190.7,535.9 1193.7,540.9 1196.2,538.4 1198.7,543.1 1202.9,541.8 1205.7,538.4 1208.4,533.9 1212.0,534.8 1215.7,540.1 1221.2,542.6 1223.4,547.6 1226.3,549.0 1227.9,541.8 1230.4,543.8 1233.4,536.8 1238.0,530.9 1241.3,531.4 1243.0,522.6 1246.3,521.7 1248.8,516.7 1251.3,515.9 1253.8,525.0 1255.8,521.7 1260.5,531.8 1263.9,525.0 1265.9,528.4 1269.7,523.4 1273.0,521.4 1276.4,520.9 1278.0,529.2 1280.6,530.1 1284.7,529.7 1286.9,526.4 1288.6,518.7 1292.3,518.4 1296.4,512.0 1298.6,514.2 1301.5,506.4 1306.0,507.0 1308.2,521.3 1311.5,528.7 1313.4,540.2 1317.7,543.0 1319.3,549.2 1321.0,557.4 1323.0,559.8 1325.9,558.7 1328.2,548.9 1331.0,565.6 1333.6,550.8 1335.7,542.3 1339.3,544.3 1343.4,544.3 1346.7,538.0 1349.2,535.2 1352.5,532.8 1355.7,529.8 1359.0,530.0 1362.0,532.8 1363.0,544.3 1368.0,545.1 1371.3,548.4 1374.6,552.5 1377.9,551.1 1382.0,557.4 1385.2,555.4 1388.5,559.0 1391.0,573.8 1395.0,573.0 1397.5,570.8 1401.3,563.1 1403.6,573.0 1406.6,577.0 1409.0,578.7 1411.8,579.0"/>
<rect x="0" y="0" width="1496" height="1" fill="#000"/><rect x="0" y="0" width="1" height="598" fill="#000"/>
<rect x="1495" y="0" width="1" height="598" fill="#000"/><rect x="0" y="596" width="1496" height="2" fill="#000"/>
</svg>
<div class="t ax" style="top:37px">15,000</div>
<div class="t ax" style="top:76px">14,000</div>
<div class="t ax" style="top:115px">13,000</div>
<div class="t ax" style="top:153px">12,000</div>
<div class="t ax" style="top:192px">11,000</div>
<div class="t ax" style="top:230px">10,000</div>
<div class="t ax" style="top:269px">9,000</div>
<div class="t ax" style="top:307px">8,000</div>
<div class="t ax" style="top:346px">7,000</div>
<div class="t vl" style="top:405.3px"><span>222,707</span></div>
<div class="t vl" style="top:445.5px"><span>111,354</span></div>
<div class="t sm" style="left:4px;top:522.3px"><span>70</span></div>
<div class="t sm" style="left:4px;top:540.3px"><span>50</span></div>
<div class="t sm" style="left:4px;top:561.5px"><span>30</span></div>
<div class="t sm box" style="left:72px;top:199px;width:27px;height:10px;padding:1.5px 0 0 1.5px;font-size:9.1px"><span>10969</span></div>
<div class="t sm box" style="left:72px;top:263px;width:34px;height:11px;padding:1.7px 0 0 1px;font-size:9.2px"><span>9307.27</span></div>
<div class="t sm box" style="left:72px;top:504px;width:74px;height:11px;padding:1.3px 0 0 2.3px;letter-spacing:0.08px"><span>RSI 14/14 = 13.8</span></div>
<div class="t box" style="left:75px;top:375px;width:293px;height:22px;font-size:18.67px"><span class="ti" id="t1" style="left:2px;letter-spacing:0.06px">Bursagraph.co.il |</span><span class="ti" id="t2" style="left:153.2px;letter-spacing:0.55px">445015</span><span class="ti" id="t3" style="left:224.6px">|</span><span class="ti" id="t4" style="left:234.7px;font-size:17px;top:3.5px" dir="rtl">מטריקס</span></div>
<div style="position:absolute;left:72px;top:378px;width:1px;height:2px;border:1px solid #008000;"></div>
</body></html>
